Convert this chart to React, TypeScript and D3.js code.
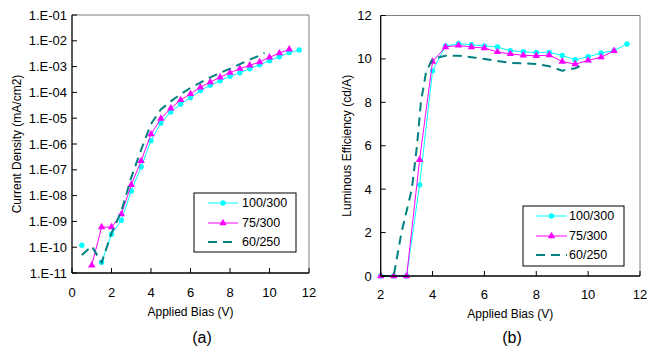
import React from 'react';
import * as d3 from 'd3';

// ---------- Data: panel (a) current density (mA/cm2) ----------
const jBias100 = [0.5, 1, 1.5, 2, 2.5, 3, 3.5, 4, 4.5, 5, 5.5, 6, 6.5, 7, 7.5, 8, 8.5, 9, 9.5, 10, 10.5, 11, 11.5];
const j100: (number | null)[] = [1.2e-10, null, 2.6e-11, 3.2e-10, 1.1e-9, 1.5e-8, 1.3e-7, 1.35e-6, 6.5e-6, 1.75e-5, 3.5e-5, 6.3e-5, 1.17e-4, 1.9e-4, 2.8e-4, 4.2e-4, 5.8e-4, 8.3e-4, 1.18e-3, 1.7e-3, 2.4e-3, 3.5e-3, 4.4e-3];
const jBias75 = [1, 1.5, 2, 2.5, 3, 3.5, 4, 4.5, 5, 5.5, 6, 6.5, 7, 7.5, 8, 8.5, 9, 9.5, 10, 10.5, 11];
const j75: (number | null)[] = [2e-11, 6e-10, 6e-10, 1.9e-9, 2.6e-8, 2.2e-7, 2.4e-6, 9.6e-6, 2.4e-5, 5.1e-5, 8.7e-5, 1.58e-4, 2.5e-4, 3.85e-4, 5.8e-4, 8.3e-4, 1.12e-3, 1.5e-3, 2.3e-3, 3.3e-3, 4.7e-3];
const jBias60 = [0.5, 1, 1.5, 2, 2.5, 3, 3.5, 4, 4.5, 5, 5.5, 6, 6.5, 7, 7.5, 8, 8.5, 9, 9.5, 9.75];
const j60: (number | null)[] = [5e-11, 1.1e-10, 2.5e-11, 3.5e-10, 2.5e-9, 5e-8, 6e-7, 6e-6, 2.2e-5, 4.5e-5, 8.5e-5, 1.5e-4, 2.4e-4, 3.8e-4, 5.7e-4, 8.3e-4, 1.25e-3, 1.85e-3, 2.7e-3, 3.4e-3];

// ---------- Data: panel (b) luminous efficiency (cd/A) ----------
const lBias100 = [2, 2.5, 3, 3.5, 4, 4.5, 5, 5.5, 6, 6.5, 7, 7.5, 8, 8.5, 9, 9.5, 10, 10.5, 11, 11.5];
const l100: (number | null)[] = [0, 0, 0, 4.2, 9.45, 10.6, 10.7, 10.65, 10.6, 10.55, 10.38, 10.33, 10.3, 10.3, 10.16, 9.96, 10.1, 10.27, 10.38, 10.69];
const lBias75 = [2, 2.5, 3, 3.5, 4, 4.5, 5, 5.5, 6, 6.5, 7, 7.5, 8, 8.5, 9, 9.5, 10, 10.5, 11];
const l75: (number | null)[] = [0, 0, 0, 5.35, 9.88, 10.55, 10.62, 10.55, 10.5, 10.32, 10.23, 10.17, 10.14, 10.18, 9.88, 9.76, 9.93, 10.08, 10.37];
const lBias60 = [2, 2.5, 2.8, 3.2, 3.4, 3.55, 3.75, 4, 4.5, 5, 5.5, 6, 6.5, 7, 7.5, 8, 8.5, 9, 9.5, 9.75];
const l60: (number | null)[] = [0, 0, 2, 4, 6, 8, 9.4, 10, 10.15, 10.15, 10.08, 10.0, 9.9, 9.82, 9.8, 9.77, 9.66, 9.46, 9.57, 9.7];

// ---------- Ticks & labels ----------
const xTicksA = [0, 2, 4, 6, 8, 10, 12];
const yTicksA = [1e-11, 1e-10, 1e-9, 1e-8, 1e-7, 1e-6, 1e-5, 1e-4, 1e-3, 1e-2, 1e-1];
const xTicksB = [2, 4, 6, 8, 10, 12];
const yTicksB = [0, 2, 4, 6, 8, 10, 12];
const seriesNames = ['100/300', '75/300', '60/250'];

const FONT = '"Liberation Sans", Arial, sans-serif';
const CYAN = '#00FFFF';
const MAGENTA = '#FF00FF';
const TEAL = '#008080';

type Series = { xs: number[]; ys: (number | null)[]; color: string; marker: 'circle' | 'triangle' | null; dash?: string; width: number };

const triPath = d3.symbol().type(d3.symbolTriangle).size(24)() as string;

function Marker({ kind, x, y, color }: { kind: 'circle' | 'triangle' | null; x: number; y: number; color: string }) {
  if (kind === 'circle') return <circle cx={x} cy={y} r={2.7} fill={color} />;
  if (kind === 'triangle') return <path d={triPath} transform={`translate(${x},${y})`} fill={color} />;
  return null;
}

function Panel(props: {
  x: any; y: any; xTicks: number[]; yTicks: number[]; yFmt: (v: number) => string;
  series: Series[]; yTitle: string; yTitleX: number; xLabelY: number; xTitleY: number;
  caption: string; captionX: number; yLabelGap: number;
  legend: { x0: number; y0: number; x1: number; y1: number; rows: number[]; lx0: number; lx1: number; tx: number };
}) {
  const { x, y, series, legend } = props;
  const [x0, x1] = x.range();
  const [yb, yt] = y.range();
  const line = d3.line<[number, number | null]>()
    .defined(d => d[1] != null)
    .x(d => x(d[0]))
    .y(d => y(d[1] as number));
  return (
    <g>
      {/* plot border */}
      <line x1={x0} x2={x1} y1={yt} y2={yt} stroke="#808080" strokeWidth={1} />
      <line x1={x1} x2={x1} y1={yt} y2={yb} stroke="#808080" strokeWidth={1} />
      {/* series */}
      {series.map((s, i) => {
        const pts: [number, number | null][] = s.xs.map((v, k) => [v, s.ys[k]]);
        return (
          <g key={i}>
            <path d={line(pts) || ''} fill="none" stroke={s.color} strokeWidth={s.width} strokeDasharray={s.dash} />
            {pts.filter(p => p[1] != null).map((p, k) => (
              <Marker key={k} kind={s.marker} x={x(p[0])} y={y(p[1] as number)} color={s.color} />
            ))}
          </g>
        );
      })}
      {/* axes */}
      <line x1={x0} x2={x0} y1={yt} y2={yb} stroke="#000" strokeWidth={1.3} />
      <line x1={x0} x2={x1} y1={yb} y2={yb} stroke="#000" strokeWidth={1.3} />
      {props.yTicks.map(t => (
        <g key={'y' + t}>
          <line x1={x0} x2={x0 + 5} y1={y(t)} y2={y(t)} stroke="#000" strokeWidth={1} />
          <text x={x0 - props.yLabelGap} y={y(t)} dy="0.35em" textAnchor="end" fontSize={13} fontFamily={FONT}>{props.yFmt(t)}</text>
        </g>
      ))}
      {props.xTicks.map(t => (
        <g key={'x' + t}>
          <line x1={x(t)} x2={x(t)} y1={yb} y2={yb - 5} stroke="#000" strokeWidth={1} />
          <text x={x(t)} y={props.xLabelY} dy="0.35em" textAnchor="middle" fontSize={13} fontFamily={FONT}>{t}</text>
        </g>
      ))}
      {/* titles */}
      <text x={(x0 + x1) / 2} y={props.xTitleY} textAnchor="middle" fontSize={12} fontFamily={FONT}>Applied Bias (V)</text>
      <text transform={`translate(${props.yTitleX},${(yt + yb) / 2}) rotate(-90)`} dy="0.35em" textAnchor="middle" fontSize={12} fontFamily={FONT}>{props.yTitle}</text>
      <text x={props.captionX} y={343} textAnchor="middle" fontSize={16} fontFamily={FONT}>{props.caption}</text>
      {/* legend */}
      <rect x={legend.x0} y={legend.y0} width={legend.x1 - legend.x0} height={legend.y1 - legend.y0} fill="#fff" stroke="#000" strokeWidth={1} />
      {series.map((s, i) => {
        const ry = legend.rows[i];
        return (
          <g key={'l' + i}>
            <line x1={legend.lx0} x2={legend.lx1} y1={ry} y2={ry} stroke={s.color} strokeWidth={s.width} strokeDasharray={s.dash} />
            <Marker kind={s.marker} x={(legend.lx0 + legend.lx1) / 2} y={ry} color={s.color} />
            <text x={legend.tx} y={ry} dy="0.35em" fontSize={12.5} fontFamily={FONT}>{seriesNames[i]}</text>
          </g>
        );
      })}
    </g>
  );
}

export default function App() {
  const xA = d3.scaleLinear().domain([0, 12]).range([72, 309]);
  const yA = d3.scaleLog().domain([1e-11, 1e-1]).range([273, 15]);
  const xB = d3.scaleLinear().domain([2, 12]).range([380.7, 640]);
  const yB = d3.scaleLinear().domain([0, 12]).range([276, 15.5]);

  const fmtExp = (v: number) => {
    const e = Math.round(Math.log10(v));
    return '1.E' + (e < 0 ? '-' : '+') + String(Math.abs(e)).padStart(2, '0');
  };

  const seriesA: Series[] = [
    { xs: jBias100, ys: j100, color: CYAN, marker: 'circle', width: 1 },
    { xs: jBias75, ys: j75, color: MAGENTA, marker: 'triangle', width: 1 },
    { xs: jBias60, ys: j60, color: TEAL, marker: null, dash: '9,6', width: 2 },
  ];
  const seriesB: Series[] = [
    { xs: lBias100, ys: l100, color: CYAN, marker: 'circle', width: 1 },
    { xs: lBias75, ys: l75, color: MAGENTA, marker: 'triangle', width: 1 },
    { xs: lBias60, ys: l60, color: TEAL, marker: null, dash: '9,6', width: 2 },
  ];

  return (
    <svg width={648} height={348} style={{ position: 'absolute', left: 0, top: 0, background: '#fff' }}>
      <rect x={0} y={0} width={648} height={348} fill="#fff" />
      <Panel x={xA} y={yA} xTicks={xTicksA} yTicks={yTicksA} yFmt={fmtExp} series={seriesA}
        yTitle="Current Density (mA/cm2)" yTitleX={17} xLabelY={292} xTitleY={316}
        caption="(a)" captionX={202} yLabelGap={5}
        legend={{ x0: 194, y0: 193, x1: 296, y1: 252, rows: [203, 223, 242], lx0: 208, lx1: 238, tx: 242 }} />
      <Panel x={xB} y={yB} xTicks={xTicksB} yTicks={yTicksB} yFmt={(v) => String(v)} series={seriesB}
        yTitle="Luminous Efficiency (cd/A)" yTitleX={347} xLabelY={294} xTitleY={318}
        caption="(b)" captionX={512} yLabelGap={9}
        legend={{ x0: 523, y0: 206, x1: 624, y1: 266, rows: [216, 236, 255], lx0: 536, lx1: 567, tx: 569 }} />
    </svg>
  );
}
